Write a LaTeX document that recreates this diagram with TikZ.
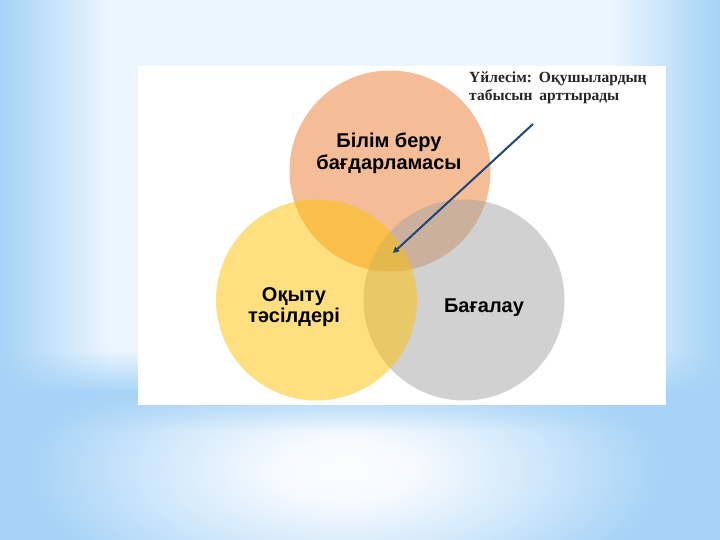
\documentclass[tikz,border=0pt]{standalone}
\usepackage{fontspec}
\setmainfont{Liberation Serif}
\newfontfamily\arialf{Liberation Sans}
\usetikzlibrary{arrows.meta,fadings}
\definecolor{bgb}{RGB}{166,211,247}
\definecolor{bgw}{RGB}{236,246,254}
\definecolor{vorange}{RGB}{237,125,49}
\definecolor{vgray}{RGB}{165,165,165}
\definecolor{vyellow}{RGB}{255,192,0}
\definecolor{arrblue}{RGB}{31,70,120}
\pgfdeclareradialshading{glowshade}{\pgfpoint{0bp}{0bp}}{color(0bp)=(white!97!bgb); color(5bp)=(white!90!bgb); color(14bp)=(bgb!50!white); color(24bp)=(bgb); color(50bp)=(bgb)}
\tikzfading[name=bandfade, top color=transparent!100, bottom color=transparent!100, middle color=transparent!10]
\tikzset{
  venn/.style={circle, minimum size=201pt, inner sep=0pt, fill opacity=0.5},
  vlabel/.style={font=\arialf\bfseries\fontsize{20}{21.5}\selectfont, align=center, text=black, inner sep=0pt},
  note/.style={font=\bfseries\fontsize{15.5}{18}\selectfont, align=left, text=black!85, inner sep=0pt},
}
\begin{document}
\begin{tikzpicture}[x=1pt,y=-1pt]
\useasboundingbox (0,0) rectangle (720,540);
% background
\fill[bgb] (0,0) rectangle (720,540);
\begin{scope}
\clip (0,390) rectangle (720,540);
\shade[shading=glowshade] (345,470) ellipse (330 and 150);
\end{scope}
\fill[left color=bgb, right color=bgw] (0,0) rectangle (110,390);
\fill[bgw] (110,0) rectangle (610,390);
\fill[left color=bgw, right color=bgb] (610,0) rectangle (720,390);
\fill[bgb, path fading=bandfade] (0,350) rectangle (720,430);
% white panel
\fill[white] (138,66) rectangle (666,405);
% circles
\node[venn, fill=vorange] (bilim) at (390,171) {};
\node[venn, fill=vgray] (bagalau) at (464,300) {};
\node[venn, fill=vyellow] (oqytu) at (316.5,300) {};
% labels
\node[vlabel] (lb1) at (389,153) {Білім беру\\бағдарламасы};
\node[vlabel] (lb2) at (294,307) {Оқыту\\тәсілдері};
\node[vlabel, anchor=base] (lb3) at (484,312) {Бағалау};
% annotation
\node[note, anchor=base west] (nt) at (469,101) {Үйлесім:\hspace{0.45em}Оқушылардың\\табысын\hspace{0.45em}арттырады};
\coordinate (as) at (533,124);
\coordinate (at) at (393,253);
\draw[arrblue, line width=2pt, -{Triangle[length=6pt,width=6pt]}] (as) -- (at);
\end{tikzpicture}
\end{document}
